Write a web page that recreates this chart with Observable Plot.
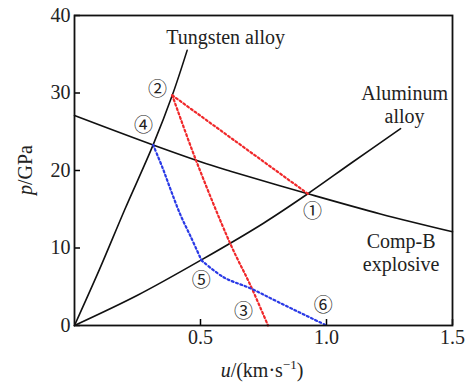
<!DOCTYPE html>
<html>
<head>
<meta charset="utf-8">
<script src="https://cdn.jsdelivr.net/npm/d3@7"></script>
<script src="https://cdn.jsdelivr.net/npm/@observablehq/plot@0.6"></script>
<style>
  html, body { margin: 0; padding: 0; background: #fff; }
</style>
</head>
<body>
<div id="chart"></div>
<script>
// Hugoniot curves (u in km/s, p in GPa)
const tungstenU = [0, 0.1, 0.2, 0.312, 0.388, 0.447];
const tungstenP = [0, 7.3, 15.0, 23.3, 29.7, 35.5];

const aluminumU = [0, 0.25, 0.5, 0.75, 0.926, 1.1, 1.294];
const aluminumP = [0, 3.9, 8.4, 13.2, 17.0, 21.0, 25.4];

const compBU = [0, 0.312, 0.54, 0.619, 0.926, 1.214, 1.5];
const compBP = [27.1, 23.3, 20.7, 19.9, 17.0, 14.4, 12.1];

// red dotted paths from state 2
const red21U = [0.388, 0.926];
const red21P = [29.7, 17.0];
const red23U = [0.388, 0.48, 0.619, 0.698, 0.768];
const red23P = [29.7, 21.5, 10.5, 5.2, 0];

// blue dotted paths from state 4
const blue45U = [0.312, 0.35, 0.383, 0.42, 0.462, 0.504];
const blue45P = [23.3, 20.3, 17.4, 14.3, 11.4, 8.4];
const blue56U = [0.504, 0.593, 0.698, 0.81, 1.0];
const blue56P = [8.4, 6.2, 4.8, 3.0, 0];

// state labels
const stateText = ["①", "②", "③", "④", "⑤", "⑥"];
const stateU = [0.944, 0.329, 0.671, 0.274, 0.503, 0.987];
const stateP = [14.7, 30.4, 1.7, 25.7, 5.8, 2.5];

// curve names
const nameText = ["Tungsten alloy", "Aluminum", "alloy", "Comp-B", "explosive"];
const nameU = [0.6, 1.31, 1.31, 1.296, 1.296];
const nameP = [37.2, 29.9, 27.0, 10.8, 7.9];

const xTicks = [0.5, 1.0, 1.5];
const yTicks = [0, 10, 20, 30, 40];

const SERIF = "Liberation Serif";
const CIRC = "Noto Sans CJK SC";

const zipLine = (us, ps) => us.map((u, i) => ({u, p: ps[i]}));
const zipText = (ts, us, ps) => ts.map((t, i) => ({t, u: us[i], p: ps[i]}));

const solid = {x: "u", y: "p", stroke: "#111", strokeWidth: 1.6, curve: "catmull-rom"};
const dotted = (c) => ({x: "u", y: "p", stroke: c, strokeWidth: 2.2, strokeDasharray: "2,2.6", curve: "catmull-rom"});

const chart = Plot.plot({
  width: 465,
  height: 383,
  marginLeft: 74,
  marginRight: 13,
  marginTop: 15,
  marginBottom: 58,
  x: {domain: [0, 1.5]},
  y: {domain: [0, 40]},
  marks: [
    Plot.axisX(xTicks, {tickSize: -6, tickPadding: 10, tickFormat: d3.format(".1f"), label: null, fontSize: 20, fontFamily: SERIF, fill: "#222", strokeWidth: 1.5}),
    Plot.axisY(yTicks, {tickSize: -6, tickPadding: 10, label: null, fontSize: 20, fontFamily: SERIF, fill: "#222", strokeWidth: 1.5}),
    Plot.line(zipLine(tungstenU, tungstenP), solid),
    Plot.line(zipLine(aluminumU, aluminumP), solid),
    Plot.line(zipLine(compBU, compBP), solid),
    Plot.line(zipLine(red21U, red21P), dotted("#f0282a")),
    Plot.line(zipLine(red23U, red23P), dotted("#f0282a")),
    Plot.line(zipLine(blue45U, blue45P), dotted("#2a3ae6")),
    Plot.line(zipLine(blue56U, blue56P), dotted("#2a3ae6")),
    Plot.text(zipText(stateText, stateU, stateP), {x: "u", y: "p", text: "t", fontSize: 19, fill: "#222", fontFamily: CIRC}),
    Plot.text(zipText(nameText, nameU, nameP), {x: "u", y: "p", text: "t", fontSize: 20, fill: "#222", fontFamily: SERIF}),
    Plot.frame({stroke: "#111", strokeWidth: 1.8})
  ]
});
document.getElementById("chart").appendChild(chart);

const svg = d3.select(chart);

// axis titles with italic variables
const xl = svg.append("text")
  .attr("x", 262).attr("y", 377)
  .attr("text-anchor", "middle")
  .style("font-family", SERIF)
  .attr("font-size", 20).attr("fill", "#222");
xl.append("tspan").attr("font-style", "italic").text("u");
xl.append("tspan").text("/(km·s");
xl.append("tspan").attr("font-size", 13).attr("dy", -8).text("−1");
xl.append("tspan").attr("dy", 8).text(")");

const yl = svg.append("text")
  .attr("transform", "translate(32,170) rotate(-90)")
  .attr("text-anchor", "middle")
  .style("font-family", SERIF)
  .attr("font-size", 20).attr("fill", "#222");
yl.append("tspan").attr("font-style", "italic").text("p");
yl.append("tspan").text("/GPa");
</script>
</body>
</html>
